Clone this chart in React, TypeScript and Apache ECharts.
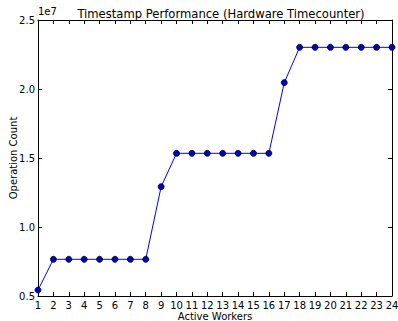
import React, { useEffect, useRef } from "react";
import * as echarts from "echarts";

const workers = [1, 2, 3, 4, 5, 6, 7, 8, 9, 10, 11, 12, 13, 14, 15, 16, 17, 18, 19, 20, 21, 22, 23, 24];
const opCounts = [
  5430000, 7660000, 7660000, 7660000, 7660000, 7660000, 7660000, 7660000,
  12920000, 15340000, 15340000, 15340000, 15340000, 15340000, 15340000, 15340000,
  20460000, 23020000, 23020000, 23020000, 23020000, 23020000, 23020000, 23020000,
];
const yTicks = [5000000, 10000000, 15000000, 20000000, 25000000];

const FONT = "DejaVu Sans";

export default function App() {
  const ref = useRef<HTMLDivElement>(null);
  useEffect(() => {
    if (!ref.current) return;
    const chart = echarts.init(ref.current, null, { renderer: "svg" });
    const axisLine = { show: true, lineStyle: { color: "#000", width: 1 } };
    const tick = { show: true, inside: true, length: 4, lineStyle: { color: "#000", width: 1 } };
    chart.setOption({
      animation: false,
      backgroundColor: "#fff",
      title: {
        text: "Timestamp Performance (Hardware Timecounter)",
        left: 216,
        textAlign: "center",
        top: 3,
        textStyle: { fontFamily: FONT, fontSize: 11.6, fontWeight: "normal", color: "#000" },
      },
      graphic: [
        {
          type: "text",
          left: 38,
          top: 6,
          style: { text: "1e7", font: `10px ${FONT}`, fill: "#000" },
        },
      ],
      grid: {
        left: 38,
        right: 6,
        top: 20,
        bottom: 25,
        containLabel: false,
        outerBoundsMode: "none",
      },
      xAxis: [
        {
          type: "value",
          min: 1,
          max: 24,
          interval: 1,
          name: "Active Workers",
          nameLocation: "middle",
          nameGap: 15,
          nameMoveOverlap: false,
          nameTextStyle: { fontFamily: FONT, fontSize: 10, color: "#000", verticalAlign: "top" },
          axisLine,
          axisTick: tick,
          axisLabel: { fontFamily: FONT, fontSize: 10, color: "#000", margin: 4, hideOverlap: false },
          splitLine: { show: false },
        },
        {
          type: "value",
          position: "top",
          min: 1,
          max: 24,
          interval: 1,
          axisLine,
          axisTick: tick,
          axisLabel: { show: false },
          splitLine: { show: false },
        },
      ],
      yAxis: [
        {
          type: "value",
          min: yTicks[0],
          max: yTicks[yTicks.length - 1],
          interval: 5000000,
          name: "Operation Count",
          nameLocation: "middle",
          nameGap: 20,
          nameMoveOverlap: false,
          nameTextStyle: { fontFamily: FONT, fontSize: 10, color: "#000" },
          axisLine,
          axisTick: tick,
          axisLabel: {
            fontFamily: FONT,
            fontSize: 10,
            color: "#000",
            margin: 3,
            formatter: (v: number) => (v / 1e7).toFixed(1),
          },
          splitLine: { show: false },
        },
        {
          type: "value",
          position: "right",
          min: yTicks[0],
          max: yTicks[yTicks.length - 1],
          interval: 5000000,
          axisLine,
          axisTick: tick,
          axisLabel: { show: false },
          splitLine: { show: false },
        },
      ],
      series: [
        {
          type: "line",
          data: workers.map((w, i) => [w, opCounts[i]]),
          symbol: "circle",
          symbolSize: 6,
          lineStyle: { color: "#0000ff", width: 1 },
          itemStyle: { color: "#0000cc", borderColor: "#000", borderWidth: 0.8 },
          clip: false,
        },
      ],
    });
    return () => chart.dispose();
  }, []);
  return (
    <div
      ref={ref}
      style={{ position: "fixed", left: 0, top: 0, width: 398, height: 321 }}
    />
  );
}
